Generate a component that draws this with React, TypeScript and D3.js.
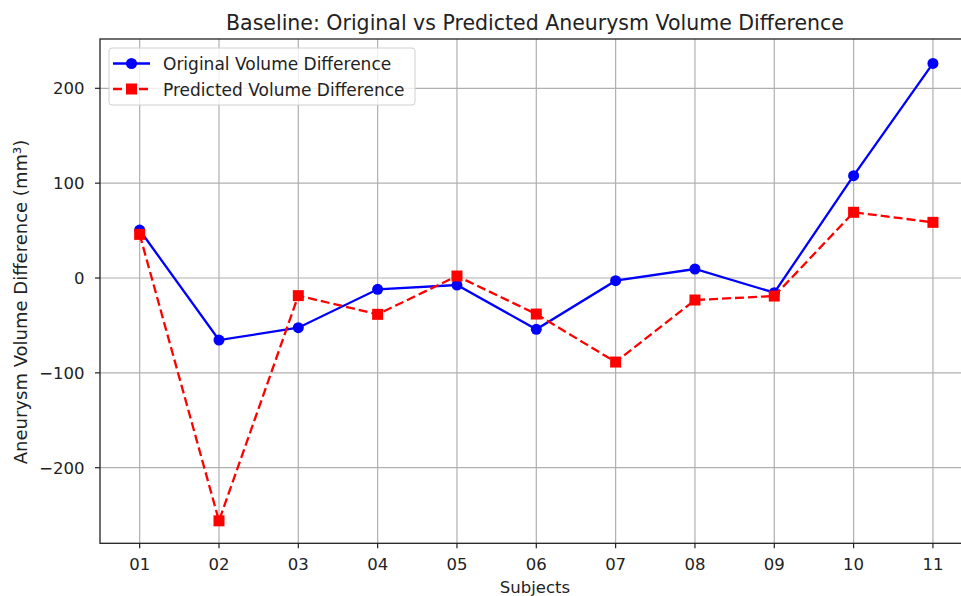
import React from "react";
import * as d3 from "d3";

const subjects = ["01", "02", "03", "04", "05", "06", "07", "08", "09", "10", "11"];
const originalDiff = [50.6, -65.4, -52.4, -11.9, -7.4, -54.1, -2.8, 9.5, -15.5, 107.9, 226.3];
const predictedDiff = [46, -256, -18.6, -38.3, 2.1, -38, -88.6, -23.2, -19, 69.3, 58.7];
const yTicks = [-200, -100, 0, 100, 200];

const W = 961, H = 596;
const left = 100, top = 39, bottom = 543.3;
const right = 972.6;

export default function App() {
  const x = d3.scaleLinear().domain([-0.5, 10.5]).range([left, right]);
  const y = d3.scaleLinear().domain([-279.7, 252]).range([bottom, top]);
  const line = d3.line<number>().x((_, i) => x(i)).y((d) => y(d));
  const font = "DejaVu Sans, sans-serif";
  const fmt = (v: number) => (v < 0 ? "\u2212" + Math.abs(v) : String(v));
  return (
    <svg width={W} height={H} style={{ position: "absolute", left: 0, top: 0, background: "#fff" }} fontFamily={font}>
      <rect x={0} y={0} width={W} height={H} fill="#fff" />
      {/* grid */}
      {subjects.map((s, i) => (
        <line key={"gx" + s} x1={x(i)} x2={x(i)} y1={top} y2={bottom} stroke="#b0b0b0" strokeWidth={1.2} />
      ))}
      {yTicks.map((t) => (
        <line key={"gy" + t} x1={left} x2={right} y1={y(t)} y2={y(t)} stroke="#b0b0b0" strokeWidth={1.2} />
      ))}
      {/* lines */}
      <path d={line(originalDiff) || ""} fill="none" stroke="#0000ff" strokeWidth={2.3} />
      {originalDiff.map((v, i) => (
        <circle key={"o" + i} cx={x(i)} cy={y(v)} r={5.5} fill="#0000ff" />
      ))}
      <path d={line(predictedDiff) || ""} fill="none" stroke="#ff0000" strokeWidth={2.3} strokeDasharray="9,4" />
      {predictedDiff.map((v, i) => (
        <rect key={"p" + i} x={x(i) - 5.5} y={y(v) - 5.5} width={11} height={11} fill="#ff0000" />
      ))}
      {/* spines */}
      <rect x={left} y={top} width={right - left} height={bottom - top} fill="none" stroke="#222" strokeWidth={1.3} />
      {/* x ticks */}
      {subjects.map((s, i) => (
        <g key={"xt" + s}>
          <line x1={x(i)} x2={x(i)} y1={bottom} y2={bottom + 5} stroke="#222" strokeWidth={1.2} />
          <text x={x(i)} y={bottom + 27} textAnchor="middle" fontSize={16.5} fill="#222">{s}</text>
        </g>
      ))}
      {yTicks.map((t) => (
        <g key={"yt" + t}>
          <line x1={left - 5} x2={left} y1={y(t)} y2={y(t)} stroke="#222" strokeWidth={1.2} />
          <text x={left - 15.5} y={y(t) + 6} textAnchor="end" fontSize={16.5} fill="#222">{fmt(t)}</text>
        </g>
      ))}
      {/* labels */}
      <text x={535} y={30} textAnchor="middle" fontSize={20.5} fill="#222">Baseline: Original vs Predicted Aneurysm Volume Difference</text>
      <text x={535} y={593} textAnchor="middle" fontSize={16.5} fill="#222">Subjects</text>
      <text transform={`translate(27,302) rotate(-90)`} textAnchor="middle" fontSize={18} fill="#222">Aneurysm Volume Difference (mm³)</text>
      {/* legend */}
      <g>
        <rect x={109} y={48} width={306} height={57} rx={3} fill="#fff" fillOpacity={0.8} stroke="#d0d0d0" strokeWidth={1} />
        <line x1={113} x2={150} y1={63.5} y2={63.5} stroke="#0000ff" strokeWidth={2.3} />
        <circle cx={131.5} cy={63.5} r={5.5} fill="#0000ff" />
        <text x={163} y={70} fontSize={17} fill="#222">Original Volume Difference</text>
        <line x1={113} x2={150} y1={89} y2={89} stroke="#ff0000" strokeWidth={2.3} strokeDasharray="9,4" />
        <rect x={126} y={83.5} width={11} height={11} fill="#ff0000" />
        <text x={163} y={96} fontSize={17} fill="#222">Predicted Volume Difference</text>
      </g>
    </svg>
  );
}
